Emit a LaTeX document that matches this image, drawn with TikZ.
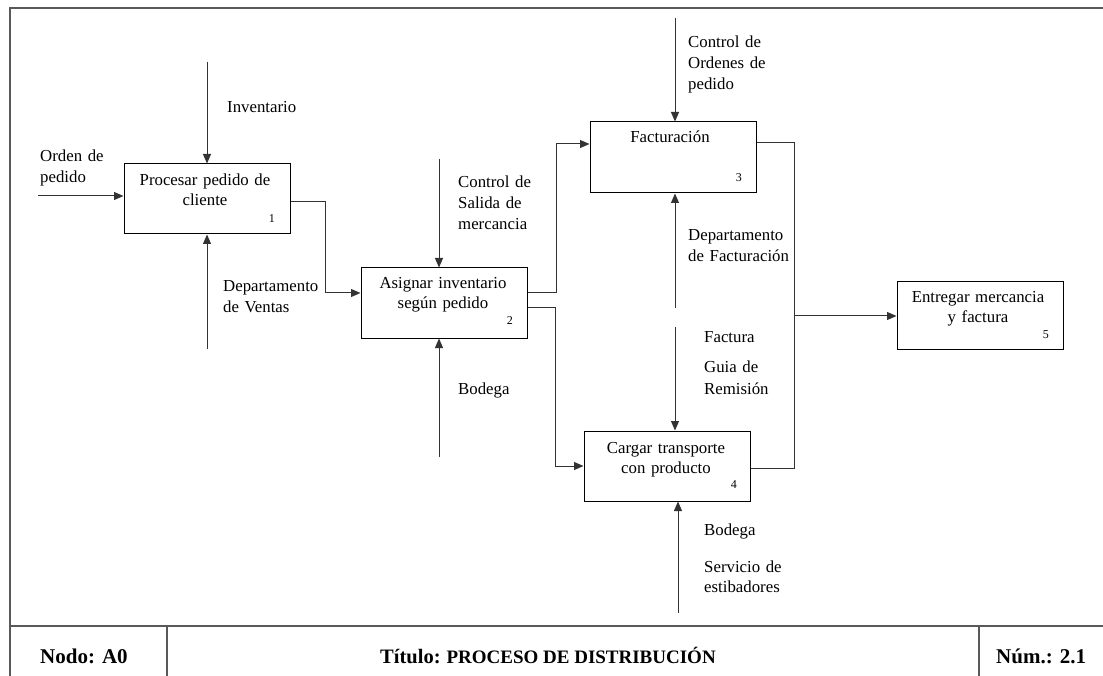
\documentclass[tikz,border=0pt]{standalone}
\usepackage{fontspec}
\setmainfont{Liberation Serif}
\usetikzlibrary{arrows.meta}

\tikzset{
  proc/.style={draw=black, line width=1pt, minimum width=166pt, inner sep=0pt},
  flow/.style={draw=black!80, line width=1pt},
  arr/.style={flow, -{Triangle[length=9.5pt,width=8pt]}},
  frameline/.style={draw=black!65, line width=1.6pt},
  lbl/.style={anchor=base west, inner sep=0pt, text width=160pt, align=left,
              font=\fontsize{16.8}{20.6}\selectfont},
  boxtext/.style={anchor=base, inner sep=0pt, text width=166pt, align=center,
              font=\fontsize{16.8}{20}\selectfont},
  num/.style={anchor=base east, inner sep=0pt, font=\fontsize{12}{14}\selectfont},
  foot/.style={anchor=base west, inner sep=0pt, font=\bfseries},
}

\begin{document}
\begin{tikzpicture}[x=1pt, y=-1pt]
\useasboundingbox (0,0) rectangle (1103,676);

% frame and footer
\draw[frameline] (1103,8) -- (10,8) -- (10,676);
\draw[frameline] (10,626) -- (1103,626);
\draw[frameline] (167,626) -- (167,676);
\draw[frameline] (979,626) -- (979,676);
\node[foot, font=\fontsize{21}{24}\selectfont\bfseries] (nodo) at (40,663) {Nodo: A0};
\node[foot] (titulo) at (380,663) {{\fontsize{20.5}{24}\selectfont Título:}\hspace{6pt}{\fontsize{19}{22}\selectfont PROCESO DE DISTRIBUCIÓN}};
\node[foot, font=\fontsize{21}{24}\selectfont\bfseries] (num) at (996,663) {Núm.: 2.1};

% activity boxes
\node[proc, minimum height=70pt] (b1) at (207,199) {};
\node[proc, minimum height=70pt] (b2) at (444,303) {};
\node[proc, minimum height=71pt] (b3) at (673,157.5) {};
\node[proc, minimum height=70pt] (b4) at (667,466) {};
\node[proc, minimum height=67pt] (b5) at (980,315.5) {};

\node[boxtext] (t1) at (205,186) {Procesar pedido de\\cliente};
\node[num] (n1) at (275,223) {1};
\node[boxtext] (t2) at (443,289) {Asignar inventario\\según pedido};
\node[num] (n2) at (513,325) {2};
\node[boxtext] (t3) at (670,143) {Facturación};
\node[num] (n3) at (742,182) {3};
\node[boxtext] (t4) at (666,453) {Cargar transporte\\con producto};
\node[num] (n4) at (737,488) {4};
\node[boxtext] (t5) at (978,303) {Entregar mercancia\\y factura};
\node[num] (n5) at (1049,338) {5};

% free ends of boundary arrows
\coordinate (inOrden) at (38,196);
\coordinate (cInv) at (207,62);
\coordinate (mVentas) at (207,349);
\coordinate (cSalida) at (439,159);
\coordinate (mBodega) at (439,457);
\coordinate (cOrdenes) at (675,18);
\coordinate (mFact) at (675,308);
\coordinate (cGuia) at (675,327);
\coordinate (mEstib) at (678,613);
\coordinate (j) at (794,316);

% inputs, controls and mechanisms
\draw[arr] (inOrden) -- (inOrden -| b1.west);
\draw[arr] (cInv) -- (cInv |- b1.north);
\draw[arr] (mVentas) -- (mVentas |- b1.south);
\draw[arr] (cSalida) -- (cSalida |- b2.north);
\draw[arr] (mBodega) -- (mBodega |- b2.south);
\draw[arr] (cOrdenes) -- (cOrdenes |- b3.north);
\draw[arr] (mFact) -- (mFact |- b3.south);
\draw[arr] (cGuia) -- (cGuia |- b4.north);
\draw[arr] (mEstib) -- (mEstib |- b4.south);

% flows between activities
\draw[arr] ([yshift=-3pt]b1.east) -- ++(35,0) |- ([yshift=10pt]b2.west);
\draw[arr] ([yshift=10pt]b2.east) -- ++(29,0) |- ([yshift=13.5pt]b3.west);
\draw[arr] ([yshift=-5pt]b2.east) -- ++(28,0) |- (b4.west);
\draw[flow] ([yshift=14.5pt]b3.east) -| (j);
\draw[flow] ([yshift=-2pt]b4.east) -| (j);
\draw[arr] (j) -- (j -| b5.west);

% labels
\node[lbl] (lOrden) at (40,162) {Orden de\\pedido};
\node[lbl] (lInv) at (227,113) {Inventario};
\node[lbl] (lVentas) at (223,292) {Departamento\\de Ventas};
\node[lbl] (lSalida) at (458,188) {Control de\\Salida de\\mercancia};
\node[lbl] (lBodega) at (458,394) {Bodega};
\node[lbl] (lOrdenes) at (688,48) {Control de\\Ordenes de\\pedido};
\node[lbl] (lFact) at (688,241) {Departamento\\de Facturación};
\node[lbl] (lFactura) at (704,342) {Factura};
\node[lbl, font=\fontsize{16.8}{22}\selectfont] (lGuia) at (704,372) {Guia de\\Remisión};
\node[lbl] (lBodega2) at (704,535) {Bodega};
\node[lbl] (lEstib) at (704,572) {Servicio de\\estibadores};
\end{tikzpicture}
\end{document}
